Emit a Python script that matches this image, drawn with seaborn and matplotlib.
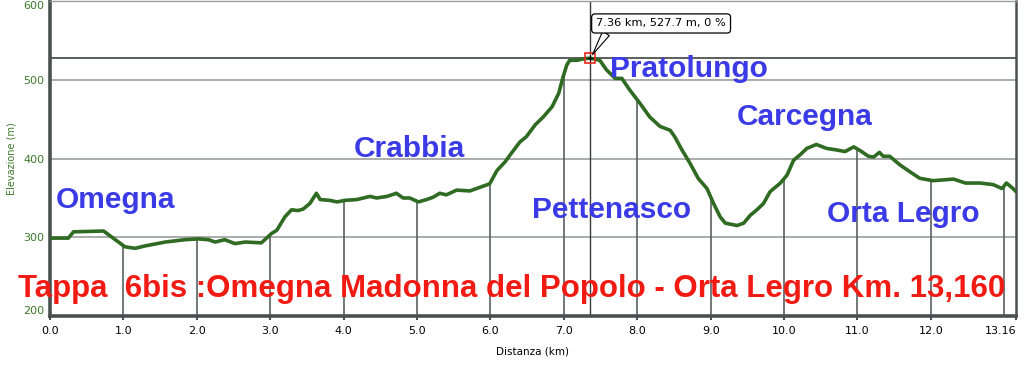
import matplotlib
matplotlib.use('Agg')
import matplotlib.pyplot as plt
import seaborn as sns
import numpy as np
import pandas as pd

# profilo altimetrico (km, m)
distanza_km = [0.0, 0.25, 0.32, 0.73, 1.02, 1.16, 1.29, 1.57, 1.84, 2.02,
               2.16, 2.25, 2.38, 2.52, 2.66, 2.88, 3.02, 3.09, 3.2, 3.29,
               3.38, 3.45, 3.54, 3.63, 3.68, 3.81, 3.91, 4.02, 4.18, 4.36,
               4.45, 4.59, 4.72, 4.81, 4.9, 5.02, 5.13, 5.22, 5.31, 5.4,
               5.54, 5.72, 5.81, 5.99, 6.09, 6.2, 6.27, 6.4, 6.49, 6.61,
               6.72, 6.84, 6.93, 6.99, 7.04, 7.08, 7.18, 7.27, 7.36, 7.49,
               7.58, 7.7, 7.79, 7.9, 8.04, 8.17, 8.31, 8.45, 8.51, 8.61,
               8.72, 8.83, 8.95, 9.04, 9.13, 9.2, 9.36, 9.45, 9.54, 9.63,
               9.72, 9.81, 9.95, 10.04, 10.13, 10.22, 10.31, 10.44, 10.58, 10.72,
               10.83, 10.95, 11.04, 11.15, 11.22, 11.3, 11.35, 11.44, 11.58, 11.72,
               11.85, 12.03, 12.31, 12.47, 12.67, 12.85, 12.97, 13.03, 13.12, 13.16]
elevazione_m = [299, 299, 307, 308, 288, 286, 289, 294, 297, 298,
                297, 294, 297, 292, 294, 293, 305, 309, 326, 335,
                334, 336, 343, 356, 348, 347, 345, 347, 348, 352,
                350, 352, 356, 350, 350, 345, 348, 351, 356, 354,
                360, 359, 362, 368, 385, 396, 405, 421, 428, 443,
                453, 466, 483, 504, 519, 525, 525, 527, 527.7, 525,
                513, 502, 502, 487, 470, 453, 441, 436, 428, 411,
                394, 375, 362, 343, 326, 318, 315, 318, 328, 335,
                343, 358, 369, 379, 398, 405, 413, 418, 413, 411,
                409, 415, 410, 403, 402, 408, 403, 403, 392, 383,
                375, 372, 374, 369, 369, 367, 362, 369, 362, 358]

x_ticks = [0, 1, 2, 3, 4, 5, 6, 7, 8, 9, 10, 11, 12, 13.16]
x_tick_labels = ['0.0', '1.0', '2.0', '3.0', '4.0', '5.0', '6.0', '7.0', '8.0',
                 '9.0', '10.0', '11.0', '12.0', '13.16']
y_ticks = [200, 300, 400, 500, 600]
drop_km = [1, 2, 3, 4, 5, 6, 7, 8, 9, 10, 11, 12, 13]

localita = ['Omegna', 'Crabbia', 'Pratolungo', 'Carcegna', 'Pettenasco', 'Orta Legro']
localita_x = [0.08, 4.14, 7.63, 9.36, 6.56, 10.58]
localita_y = [337, 402, 504, 443, 324, 320]

punto_km, punto_m = 7.36, 527.7
titolo = 'Tappa  6bis :Omegna Madonna del Popolo - Orta Legro Km. 13,160'

GREEN = '#2f6b22'
BLUE = '#3a3ae6'
RED = '#f21b14'

sns.set_theme(style='white')
plt.rcParams['font.family'] = ['DejaVu Sans']

df = pd.DataFrame({'km': distanza_km, 'm': elevazione_m})

fig, ax = plt.subplots(figsize=(10.24, 3.65), dpi=100)
fig.subplots_adjust(left=50/1024, right=1016/1024, bottom=1-316/365, top=1-1.3/365)

ax.set_xlim(0, 13.16)
ax.set_ylim(200, 600)

# griglia orizzontale
for v in [300, 400, 500]:
    ax.axhline(v, color='#9a9e9e', lw=1.2, zorder=1)

# linee di caduta ai km interi
ax.vlines(drop_km, 200, np.interp(drop_km, distanza_km, elevazione_m),
          color='#5a6060', lw=1.2, zorder=1)

# mirino
ax.axvline(punto_km, color='#3a3a3a', lw=1.0, zorder=2)
ax.axhline(punto_m, color='#5a5e5e', lw=1.4, zorder=2)

sns.lineplot(data=df, x='km', y='m', color=GREEN, lw=2.6, ax=ax, zorder=3)

ax.plot(punto_km, punto_m, marker='s', ms=7, mfc='none', mec='#e8281e', mew=1.2, zorder=5)
ax.plot(punto_km, punto_m, marker='+', ms=4, color='black', mew=0.8, zorder=5)
ax.annotate(f'{punto_km:.2f} km, {punto_m:.1f} m, 0 %', xy=(punto_km, punto_m),
            xytext=(51, 25), textcoords='offset points', ha='center', va='center',
            fontsize=8.2, color='black',
            bbox=dict(boxstyle='round,pad=0.4,rounding_size=0.3', fc='white', ec='black', lw=0.9),
            arrowprops=dict(arrowstyle='wedge,tail_width=0.7', fc='white', ec='black', lw=0.8,
                            relpos=(0.1, 0.0), shrinkA=0, shrinkB=3),
            zorder=6)

for nome, lx, ly in zip(localita, localita_x, localita_y):
    ax.text(lx, ly, nome, color=BLUE, fontsize=21.5, fontweight='bold',
            family=['Liberation Sans'], ha='left', va='baseline', zorder=4)

fig.text(18/1024, (365-296.7)/365, titolo, color=RED, fontsize=22.5, fontweight='bold',
         family=['Liberation Sans'], ha='left', va='baseline', zorder=7)

ax.set_xticks(x_ticks)
ax.set_xticklabels(x_tick_labels, fontsize=8, color='black')
ax.get_xticklabels()[-1].set_horizontalalignment('right')
ax.set_yticks(y_ticks)
ax.set_yticklabels([str(v) for v in y_ticks], fontsize=8, color='#3d7a2c')
ylabs = ax.get_yticklabels()
ylabs[0].set_verticalalignment('bottom')
ylabs[-1].set_verticalalignment('top')
ax.tick_params(axis='x', length=3, width=1.5, color='#4a5050', pad=4, bottom=True)
ax.tick_params(axis='y', length=0, pad=4, left=False)
ax.grid(False)

ax.set_xlabel('Distanza (km)', fontsize=7.5, color='black', labelpad=8)
ax.set_ylabel('Elevazione (m)', fontsize=7, color='#3d7a2c', labelpad=5)

for side in ['left', 'bottom']:
    ax.spines[side].set_color('#4a5050')
    ax.spines[side].set_linewidth(2.6)
ax.spines['right'].set_color('#4a5050')
ax.spines['right'].set_linewidth(1.8)
ax.spines['top'].set_color('#9a9e9e')
ax.spines['top'].set_linewidth(1.0)

fig.savefig('out.png', dpi=100, facecolor='white')
